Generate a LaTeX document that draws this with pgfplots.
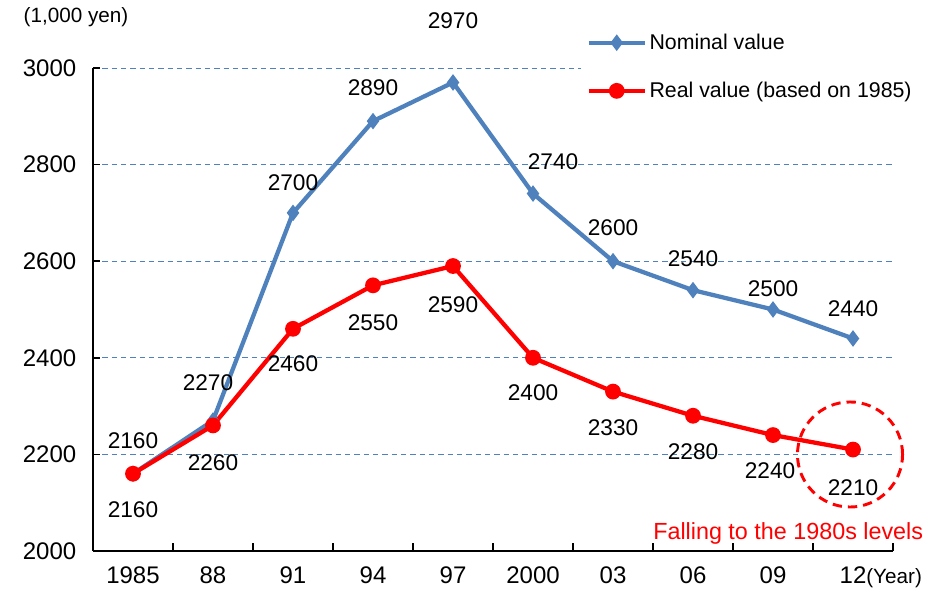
\documentclass[border=0pt]{standalone}
\usepackage{pgfplots}
\pgfplotsset{compat=1.18}
\usepackage{pgfplotstable}
\usepackage{fontspec}
\setmainfont{Liberation Sans}
\definecolor{nomblue}{RGB}{79,129,189}
\definecolor{gridblue}{RGB}{79,129,189}

\pgfplotstableread{
x y lab dx dy
0 2160 2160 0 33
1 2270 2270 -5 38
2 2700 2700 0 30
3 2890 2890 0 33
4 2970 2970 0 62
5 2740 2740 20 32
6 2600 2600 0 33
7 2540 2540 0 31
8 2500 2500 0 21
9 2440 2440 0 30
}\nominal

\pgfplotstableread{
x y lab dx dy
0 2160 2160 0 -36
1 2260 2260 0 -37
2 2460 2460 0 -35
3 2550 2550 0 -37
4 2590 2590 0 -39
5 2400 2400 0 -35
6 2330 2330 0 -36
7 2280 2280 0 -36
8 2240 2240 -3 -36
9 2210 2210 0 -38
}\real

\begin{document}
\begin{tikzpicture}
\useasboundingbox (-69.75pt,-33pt) rectangle (639.75pt,413.25pt);
\begin{axis}[
  at={(0,0)}, anchor=south west,
  scale only axis,
  width=600pt, height=362.25pt,
  xmin=-0.5, xmax=9.5,
  ymin=2000, ymax=3000,
  clip=false,
  axis x line*=bottom, axis y line*=left,
  axis line style={black, line width=1.5pt, -},
  xtick={0,...,9},
  xticklabels={1985,88,91,94,97,2000,03,06,09,{12\rlap{\fontsize{15.5}{17}\selectfont(Year)}}},
  major x tick style={draw=none},
  minor xtick={0.5,1.5,...,9.5},
  minor x tick style={black, line width=1.2pt},
  minor tick length=6pt,
  ytick={2000,2200,...,3000},
  y tick style={black, line width=1.2pt},
  major tick length=5pt,
  tick align=inside,
  ymajorgrids,
  major grid style={gridblue, line width=0.7pt, dash pattern=on 4pt off 3pt},
  /pgf/number format/assume math mode=true,
  /pgf/number format/1000 sep={},
  tick label style={font=\fontsize{18}{21}\selectfont},
  xticklabel style={yshift=-8pt},
  yticklabel style={xshift=-9pt},
  legend style={at={(rel axis cs:0.61,1.093)}, anchor=north west, draw=none, fill=white,
    font=\fontsize{16}{19}\selectfont, row sep=19pt, inner xsep=4pt, inner ysep=6pt},
  legend cell align=left,
  legend image code/.code={\draw[mark repeat=2,mark phase=2,#1] plot coordinates {(0pt,0pt) (21pt,0pt) (42pt,0pt)};},
  nodes near coords,
  point meta=explicit symbolic,
  visualization depends on={\thisrow{dx}\as\dx},
  visualization depends on={\thisrow{dy}\as\dy},
  every node near coord/.append style={anchor=center, font=\fontsize{17}{20}\selectfont, black,
     xshift={\dx*0.75pt}, yshift={\dy*0.75pt}},
]
\draw[red, line width=2.2pt, dash pattern=on 7pt off 4.5pt] (axis cs:8.9625,2199.8) circle[radius=39.4pt];
\addplot[nomblue, line width=3.2pt, mark=diamond*, mark size=3.6pt, mark options={solid}]
  table[x=x, y=y, meta=lab] {\nominal};
\addlegendentry{Nominal value}
\addplot[red, line width=3.2pt, mark=*, mark size=4.3pt, mark options={solid}]
  table[x=x, y=y, meta=lab] {\real};
\addlegendentry{Real value (based on 1985)}
\node[red, font=\fontsize{17.5}{20}\selectfont] at (axis cs:8.19,2037) {Falling to the 1980s levels};
\node[black, font=\fontsize{15.5}{18}\selectfont] at (axis cs:-0.7125,3105.6) {(1,000 yen)};
\end{axis}
\end{tikzpicture}
\end{document}
